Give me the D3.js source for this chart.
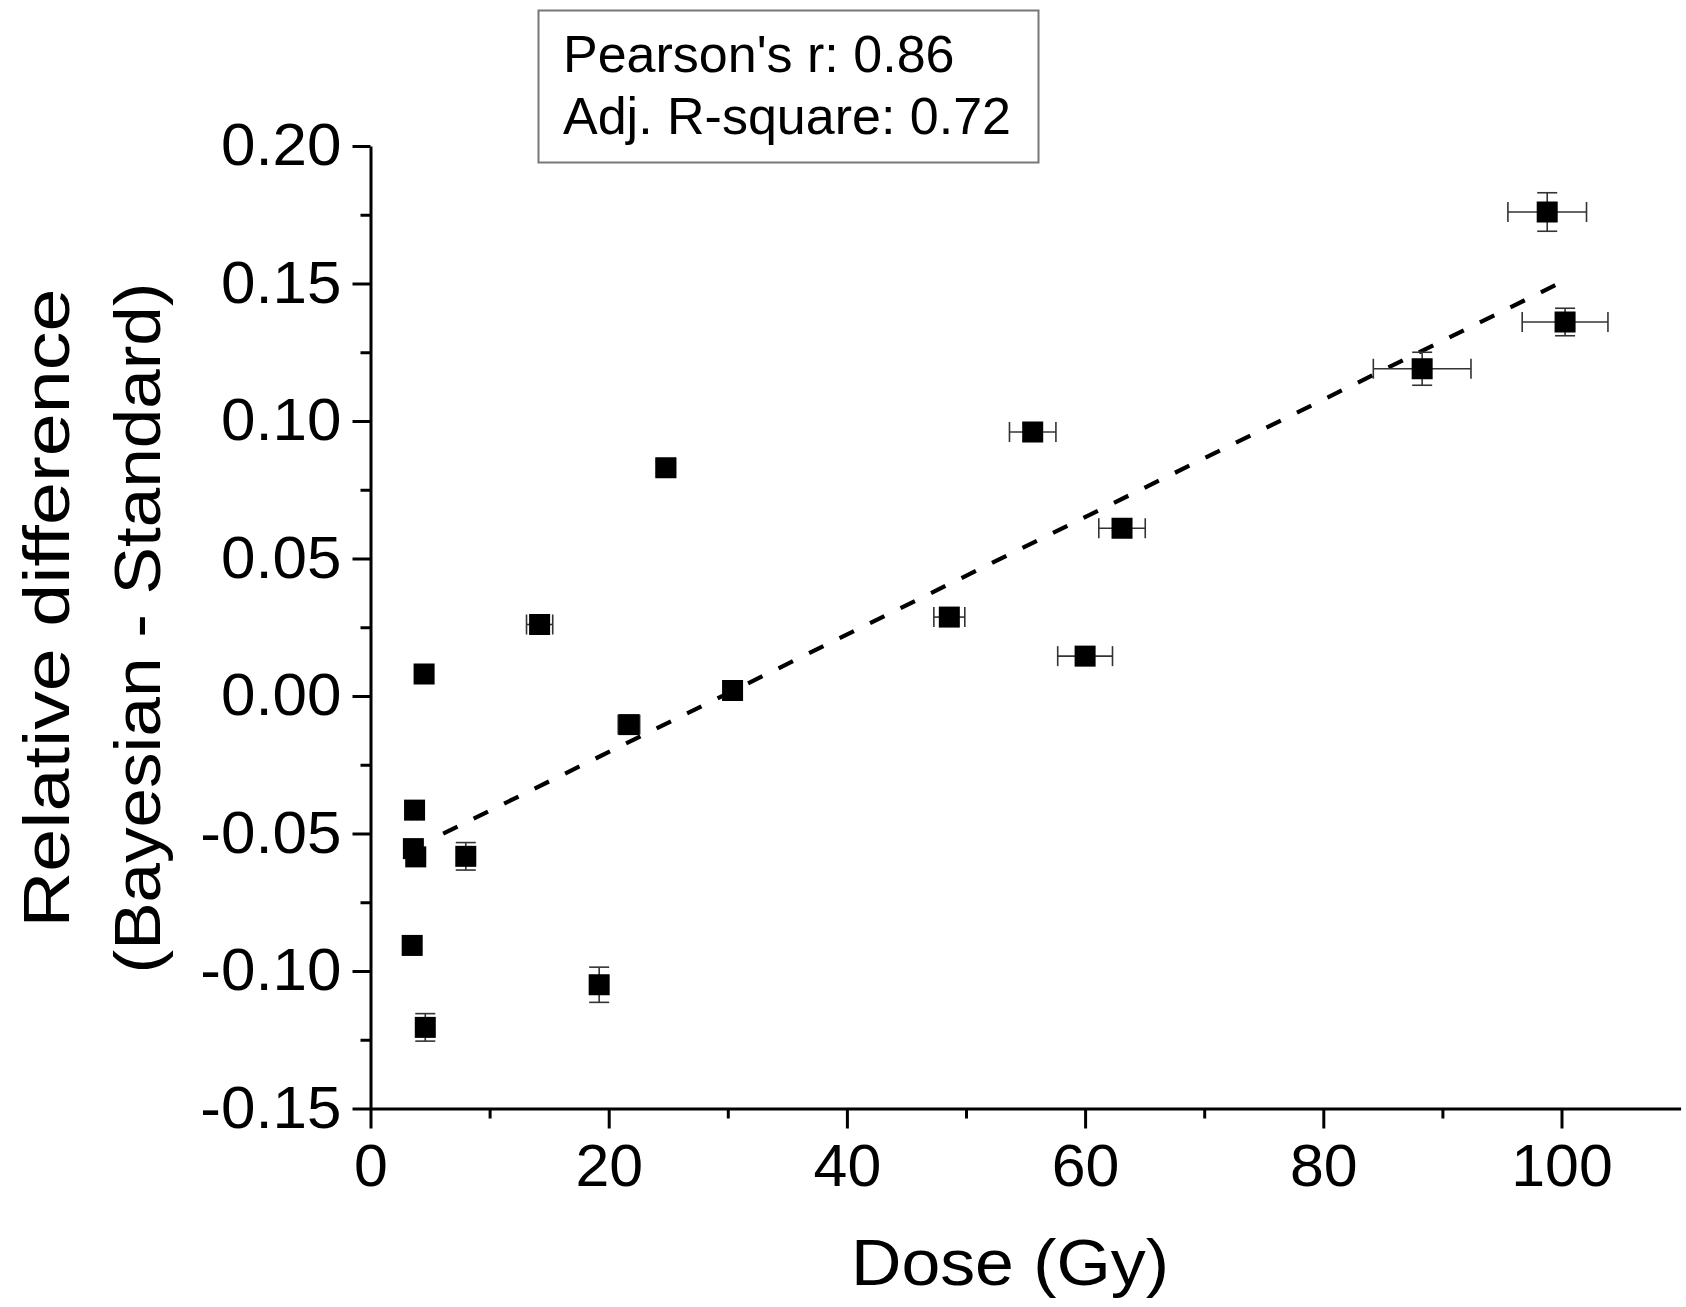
<!DOCTYPE html>
<html><head><meta charset="utf-8">
<script src="https://cdn.jsdelivr.net/npm/d3@7"></script>
<style>
body{margin:0;background:#fff}
svg{display:block;background:#fff}
text{font-family:"Liberation Sans",Arial,Helvetica,sans-serif;fill:#000}
</style>
</head><body>
<svg id="c" width="1686" height="1307"></svg>
<script>
// ---- data ----
const dose     = [98.8, 100.3, 88.3, 55.6, 63.1, 24.8, 48.6, 60.0, 30.4, 14.2, 4.5, 21.7, 3.7, 3.6, 3.8, 8.0, 3.5, 19.2, 4.6];
const relDiff  = [0.176, 0.136, 0.119, 0.096, 0.061, 0.083, 0.0287, 0.0145, 0.002, 0.026, 0.008, -0.0104, -0.0415, -0.0555, -0.0585, -0.0583, -0.0907, -0.105, -0.1205];
const doseErr  = [3.3, 3.6, 4.1, 1.95, 1.95, 0.8, 1.3, 2.3, 0.5, 1.1, 0.3, 0.9, 0.2, 0.2, 0.2, 0.5, 0.2, 0.6, 0.3];
const diffErr  = [0.007, 0.005, 0.006, 0.003, 0.003, 0.002, 0.002, 0.003, 0.002, 0.003, 0.002, 0.003, 0.002, 0.002, 0.002, 0.005, 0.002, 0.0064, 0.005];
const fitX = [6.1, 100.3];
const fitSlope = 0.002136;
const fitIntercept = -0.0631;
const xTicks = [0, 20, 40, 60, 80, 100];
const xMinorTicks = [10, 30, 50, 70, 90];
const yTicks = [-0.15, -0.10, -0.05, 0.00, 0.05, 0.10, 0.15, 0.20];
const yMinorTicks = [-0.125, -0.075, -0.025, 0.025, 0.075, 0.125, 0.175];
const statsLines = ["Pearson's r: 0.86", "Adj. R-square: 0.72"];
const xTitle = "Dose (Gy)";
const yTitle = ["Relative difference", "(Bayesian - Standard)"];

// ---- drawing ----
const svg = d3.select("#c");
const x = d3.scaleLinear().domain([0, 110]).range([370.5, 1680.6]);
const y = d3.scaleLinear().domain([-0.15, 0.20]).range([1108.5, 146]);

function stretch(sel, f) {
  sel.each(function() {
    const L = this.getComputedTextLength();
    d3.select(this).attr("textLength", L * f).attr("lengthAdjust", "spacingAndGlyphs");
  });
}

// axes
const gx = svg.append("g").attr("transform", `translate(0,${y(-0.15)})`);
gx.call(d3.axisBottom(x).tickValues(xTicks).tickSize(20).tickSizeOuter(0).tickPadding(16).tickFormat(d => d));
gx.selectAll(".tick text").style("font-size", "59px");
stretch(gx.selectAll(".tick text"), 1.03);
const gxm = svg.append("g").attr("transform", `translate(0,${y(-0.15)})`);
gxm.call(d3.axisBottom(x).tickValues(xMinorTicks).tickSize(10).tickSizeOuter(0).tickFormat(""));
gxm.select(".domain").remove();

const gy = svg.append("g").attr("transform", `translate(${x(0)},0)`);
gy.call(d3.axisLeft(y).tickValues(yTicks).tickSize(18).tickSizeOuter(0).tickPadding(11).tickFormat(d => d.toFixed(2)));
gy.selectAll(".tick text").style("font-size", "59px");
stretch(gy.selectAll(".tick text"), 1.05);
const gym = svg.append("g").attr("transform", `translate(${x(0)},0)`);
gym.call(d3.axisLeft(y).tickValues(yMinorTicks).tickSize(10).tickSizeOuter(0).tickFormat(""));
gym.select(".domain").remove();

svg.selectAll(".domain, .tick line").attr("stroke", "#000").attr("stroke-width", 3);

// fit line
const line = d3.line().x(d => x(d)).y(d => y(fitIntercept + fitSlope * d));
svg.append("path").datum(fitX).attr("d", line)
  .attr("fill", "none").attr("stroke", "#000").attr("stroke-width", 4.2)
  .attr("stroke-dasharray", "16,18");

// error bars
const idx = d3.range(dose.length);
const eb = svg.append("g").attr("stroke", "#333").attr("stroke-width", 1.6).attr("fill", "none");
const cap = 10;
idx.forEach(i => {
  const cx = x(dose[i]), cy = y(relDiff[i]);
  const x0 = x(dose[i] - doseErr[i]), x1 = x(dose[i] + doseErr[i]);
  const y0 = y(relDiff[i] - diffErr[i]), y1 = y(relDiff[i] + diffErr[i]);
  eb.append("line").attr("x1", x0).attr("x2", x1).attr("y1", cy).attr("y2", cy);
  eb.append("line").attr("x1", x0).attr("x2", x0).attr("y1", cy - cap).attr("y2", cy + cap);
  eb.append("line").attr("x1", x1).attr("x2", x1).attr("y1", cy - cap).attr("y2", cy + cap);
  eb.append("line").attr("x1", cx).attr("x2", cx).attr("y1", y0).attr("y2", y1);
  eb.append("line").attr("x1", cx - cap).attr("x2", cx + cap).attr("y1", y0).attr("y2", y0);
  eb.append("line").attr("x1", cx - cap).attr("x2", cx + cap).attr("y1", y1).attr("y2", y1);
});

// markers
const ms = 21;
svg.append("g").selectAll("rect").data(idx).join("rect")
  .attr("x", i => x(dose[i]) - ms / 2).attr("y", i => y(relDiff[i]) - ms / 2)
  .attr("width", ms).attr("height", ms).attr("fill", "#000");

// stats box
svg.append("rect").attr("x", 538.5).attr("y", 10.5).attr("width", 500).attr("height", 152)
  .attr("fill", "#fff").attr("stroke", "#777").attr("stroke-width", 2);
svg.selectAll(".stat").data(statsLines).join("text").attr("class", "stat")
  .attr("x", 563).attr("y", (d, i) => 72 + i * 61.5)
  .style("font-size", "52px").text(d => d);

// axis titles
const xt = svg.append("text").attr("x", 1010).attr("y", 1285).attr("text-anchor", "middle")
  .style("font-size", "64px").text(xTitle);
xt.attr("textLength", 318).attr("lengthAdjust", "spacingAndGlyphs");

const yPos = [{bx: 69, cy: 608, len: 639}, {bx: 160, cy: 628, len: 691}];
yTitle.forEach((t, i) => {
  svg.append("text")
    .attr("transform", `translate(${yPos[i].bx},${yPos[i].cy}) rotate(-90)`)
    .attr("text-anchor", "middle").style("font-size", "64px")
    .attr("textLength", yPos[i].len).attr("lengthAdjust", "spacingAndGlyphs")
    .text(t);
});
</script>
</body></html>
